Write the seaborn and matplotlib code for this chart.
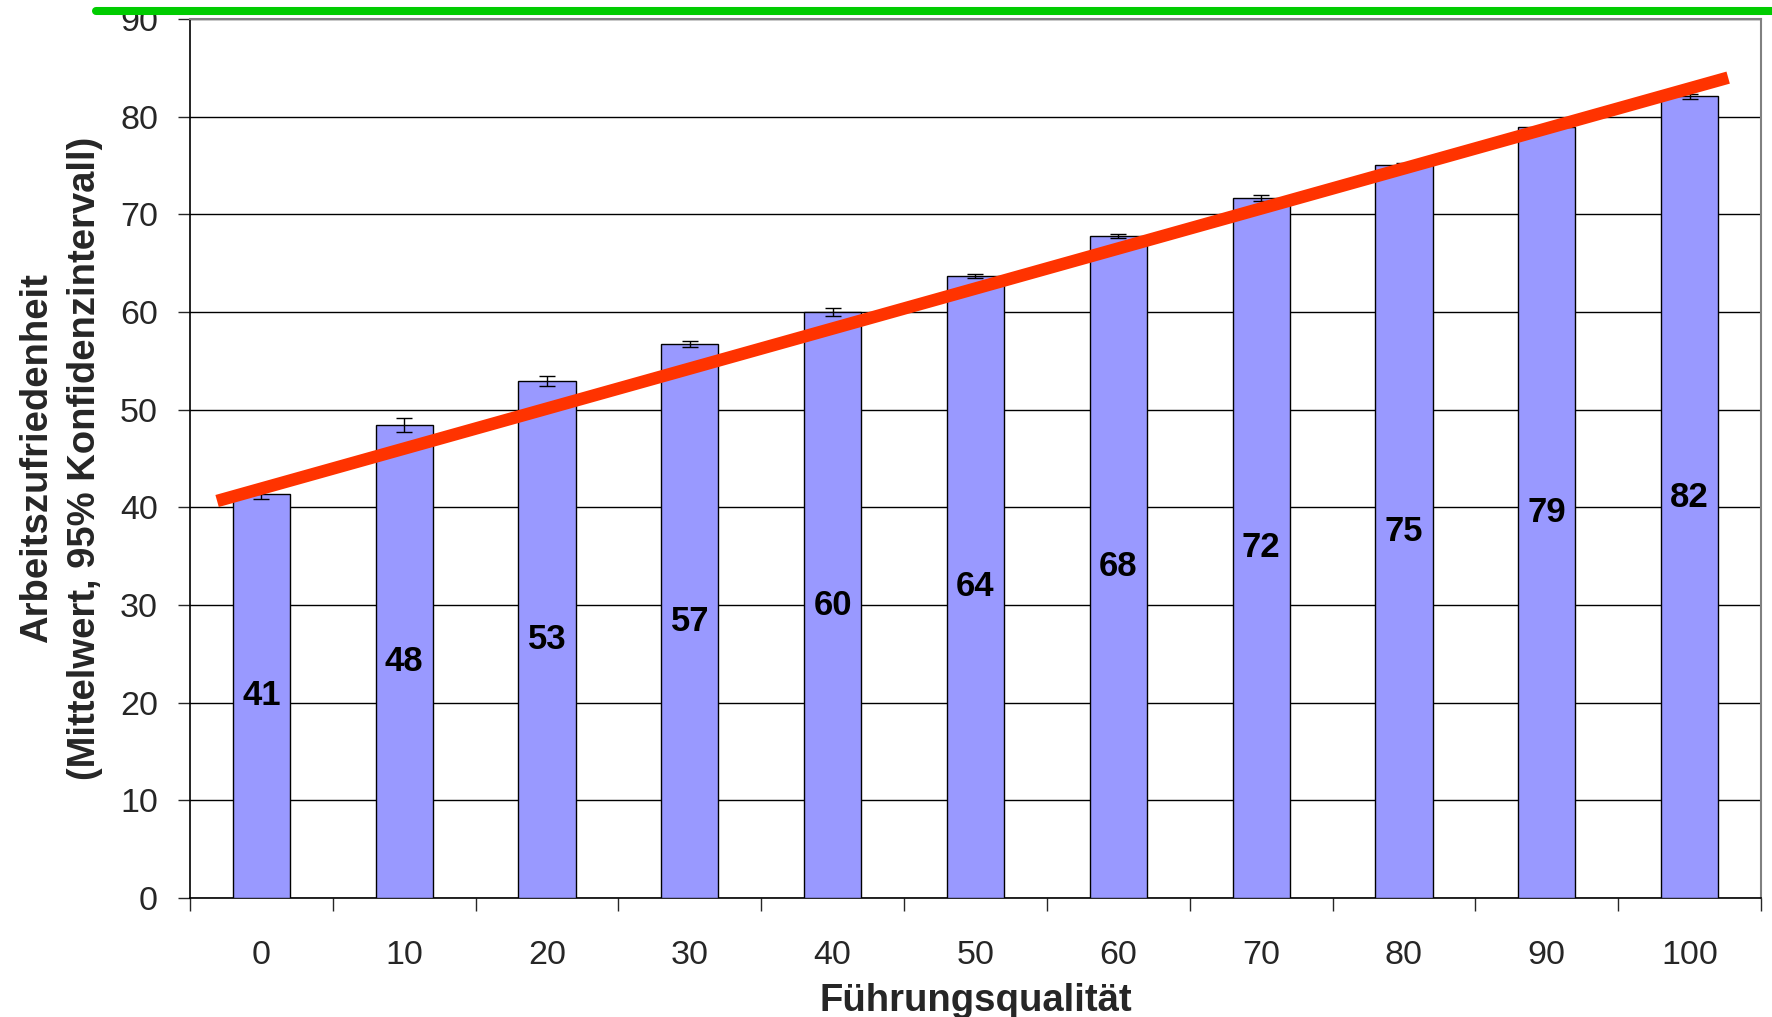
import numpy as np
import pandas as pd
import seaborn as sns
import matplotlib.pyplot as plt
from matplotlib.lines import Line2D

# values
fuehrung = ['0', '10', '20', '30', '40', '50', '60', '70', '80', '90', '100']
mittelwert = [41.4, 48.4, 52.9, 56.7, 60.0, 63.7, 67.8, 71.7, 75.1, 78.9, 82.1]
ci_halb = [0.5, 0.7, 0.5, 0.3, 0.4, 0.2, 0.2, 0.3, 0.15, 0.15, 0.25]
bar_labels = ['41', '48', '53', '57', '60', '64', '68', '72', '75', '79', '82']

# hand drawn trend line (category position, value)
trend_x = [-0.31, 10.27]
trend_y = [40.65, 84.0]

df = pd.DataFrame({'fuehrung': fuehrung, 'mittelwert': mittelwert})

sns.set_style('white')
plt.rcParams['font.family'] = ['Liberation Sans', 'DejaVu Sans']

fig = plt.figure(figsize=(17.72, 10.17), dpi=100)
ax = fig.add_axes([0.1072, 0.1170, 0.8866, 0.8643])

sns.barplot(data=df, x='fuehrung', y='mittelwert', color='#9999FF', saturation=1,
            width=0.4, edgecolor='black', linewidth=1.0, ax=ax, zorder=3, errorbar=None)

ax.errorbar(np.arange(len(fuehrung)), mittelwert, yerr=ci_halb, fmt='none',
            ecolor='black', elinewidth=1.0, capsize=6, capthick=1.0, zorder=4)

# bar value labels in the middle of each bar
for i, (v, lab) in enumerate(zip(mittelwert, bar_labels)):
    ax.text(i, v / 2, lab, ha='center', va='center', fontsize=25,
            fontweight='bold', color='black', zorder=5)

# red trend line
ax.plot(trend_x, trend_y, color='#FF3300', linewidth=9, solid_capstyle='butt', zorder=6)

ax.set_xlim(-0.5, len(fuehrung) - 0.5)
ax.set_ylim(0, 90)
ax.set_yticks(range(0, 91, 10))
ax.yaxis.grid(True, color='black', linewidth=1.0)
ax.set_axisbelow(True)

ax.tick_params(axis='y', direction='out', length=9, width=1, labelsize=24.5, pad=14, left=True)
ax.set_xticks(np.arange(len(fuehrung)))
ax.set_xticklabels(fuehrung)
ax.set_xticks(np.arange(-0.5, len(fuehrung), 1.0), minor=True)
ax.tick_params(axis='x', which='major', length=0, labelsize=24.5, pad=30)
ax.tick_params(axis='x', which='minor', direction='out', length=9, width=1, bottom=True)

for side in ['left', 'bottom']:
    ax.spines[side].set_color('black')
    ax.spines[side].set_linewidth(1.2)
for side in ['top', 'right']:
    ax.spines[side].set_color('#808080')
    ax.spines[side].set_linewidth(1.5)

ax.set_xlabel('Führungsqualität', fontsize=27.5, fontweight='bold', labelpad=9)
ax.set_ylabel('Arbeitszufriedenheit\n(Mittelwert, 95% Konfidenzintervall)', fontsize=27.5,
              fontweight='bold', labelpad=12, linespacing=1.45)

# green line across the top of the slide
fig.add_artist(Line2D([0.054, 1.0], [0.989, 0.989], transform=fig.transFigure,
                      color='#00CC00', linewidth=5.8))

plt.savefig('out.png', dpi=100)
